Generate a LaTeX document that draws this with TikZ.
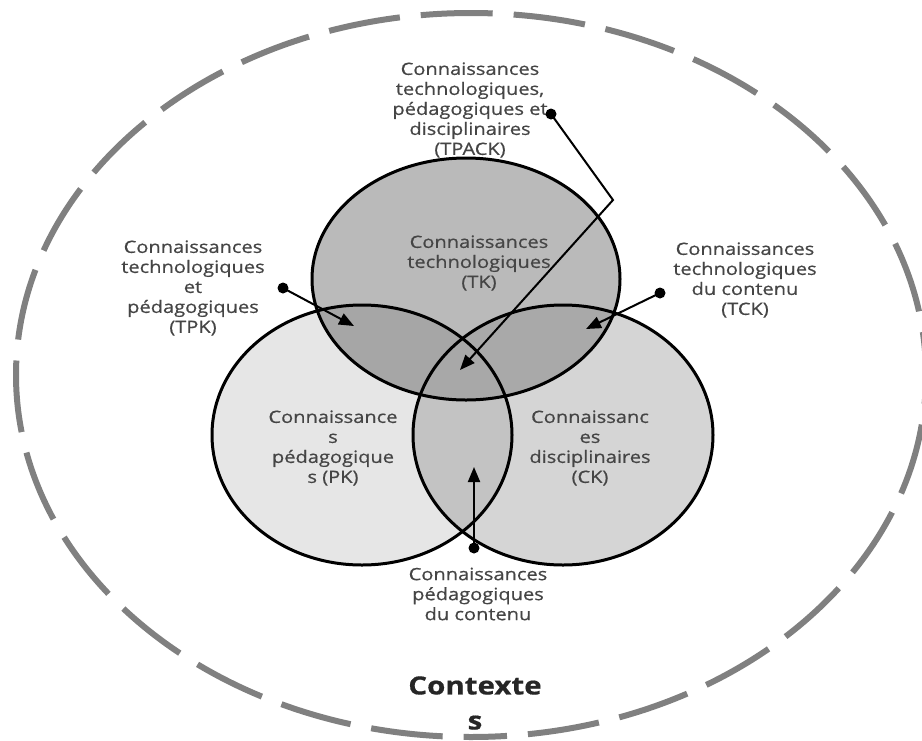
\documentclass[tikz,border=0pt]{standalone}
\usepackage{fontspec}
\setmainfont[FakeStretch=1.18, FakeBold=0.6]{Open Sans}
\usetikzlibrary{arrows.meta}

\definecolor{labelgray}{HTML}{454545}
\definecolor{ctxgray}{HTML}{808080}
\definecolor{tkfill}{HTML}{BABABA}
\definecolor{pkfill}{HTML}{E6E6E6}
\definecolor{ckfill}{HTML}{D5D5D5}
\definecolor{tpkfill}{HTML}{A6A6A6}
\definecolor{tckfill}{HTML}{A9A9A9}
\definecolor{pckfill}{HTML}{C3C3C3}
\definecolor{tpackfill}{HTML}{A8A8A8}

% the three knowledge domains
\def\tkpath{(466,279) ellipse [x radius=154pt, y radius=121pt]}
\def\pkpath{(362,435) ellipse [x radius=150pt, y radius=130pt]}
\def\ckpath{(563,435) ellipse [x radius=150pt, y radius=130pt]}

\begin{document}
\begin{tikzpicture}[x=1pt,y=-1pt,
  lbl/.style={text=labelgray, align=center, inner sep=0pt,
    font=\fontsize{17}{20}\selectfont},
  ctx/.style={text=black!85, align=center, inner sep=0pt,
    font=\fontsize{25}{35}\selectfont\bfseries},
  ptr/.style={line width=2pt, -{Triangle[length=15pt,width=12pt]}},
  dot/.style={circle, fill=black, inner sep=0pt, minimum size=11pt},
  rim/.style={line width=3pt, draw=black}
]
\useasboundingbox (0,0) rectangle (922,740);

% context: dashed outer ellipse
\draw[ctxgray, line width=6pt, dash pattern=on 72pt off 21pt, dash phase=36pt]
  (471,737) arc[start angle=-90, end angle=270, x radius=455pt, y radius=362pt];

% domain fills
\fill[pkfill] \pkpath;
\fill[ckfill] \ckpath;
\fill[tkfill] \tkpath;
\begin{scope}
  \clip \pkpath;
  \fill[pckfill] \ckpath;
\end{scope}
\begin{scope}
  \clip \tkpath;
  \fill[tpkfill] \pkpath;
  \fill[tckfill] \ckpath;
\end{scope}
\begin{scope}
  \clip \tkpath;
  \clip \pkpath;
  \fill[tpackfill] \ckpath;
\end{scope}

% domain outlines
\draw[rim] \pkpath;
\draw[rim] \ckpath;
\draw[rim] \tkpath;

% labels
\node[lbl] (tpack) at (470,110) {Connaissances\\technologiques,\\pédagogiques et\\disciplinaires\\(TPACK)};
\node[lbl] (tk) at (479,263) {Connaissances\\technologiques\\(TK)};
\node[lbl] (tpk) at (193,288) {Connaissances\\technologiques\\et\\pédagogiques\\(TPK)};
\node[lbl] (tck) at (745,280) {Connaissances\\technologiques\\du contenu\\(TCK)};
\node[lbl] (pk) at (333,448) {Connaissance\\s\\pédagogique\\s (PK)};
\node[lbl] (ck) at (590,448) {Connaissanc\\es\\disciplinaires\\(CK)};
\node[lbl] (pck) at (478,594) {Connaissances\\pédagogiques\\du contenu};
\node[ctx] (ctx) at (475,703) {Contexte\\s};

% pointers
\node[dot] (d1) at (551,114) {};
\node[dot] (d2) at (283,288) {};
\node[dot] (d3) at (660,293) {};
\node[dot] (d4) at (474,548) {};
\coordinate (bend) at (613,200);
\coordinate (t1) at (460,370);
\coordinate (t2) at (354,326);
\coordinate (t3) at (586,329);
\coordinate (t4) at (474,467);
\draw[ptr] (d1.center) -- (bend) -- (t1);
\draw[ptr] (d2.center) -- (t2);
\draw[ptr] (d3.center) -- (t3);
\draw[ptr] (d4.center) -- (t4);
\end{tikzpicture}
\end{document}
